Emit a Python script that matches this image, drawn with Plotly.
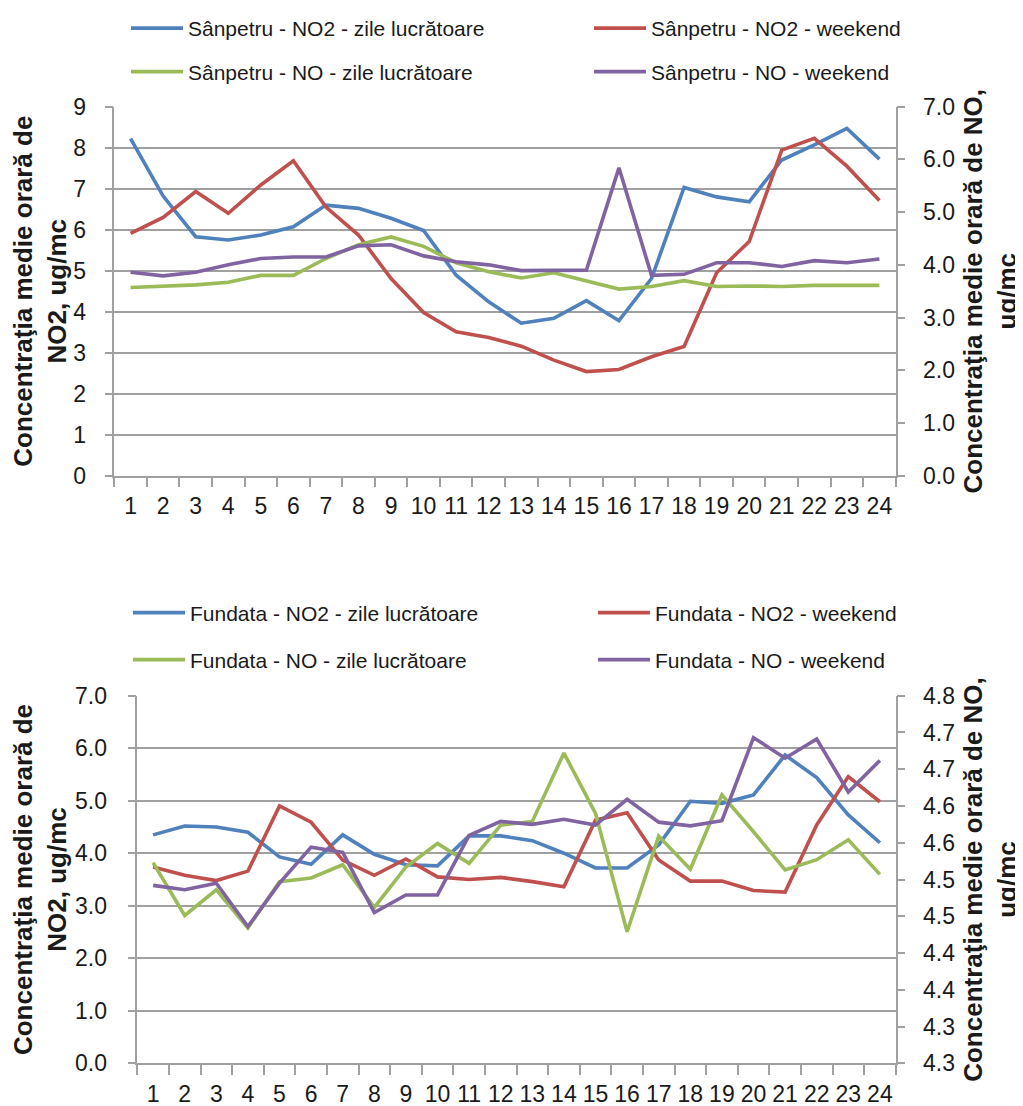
import plotly.graph_objects as go

hours = [str(h) for h in range(1, 25)]

# Sânpetru (top chart)
san_no2_work = [8.22, 6.82, 5.83, 5.75, 5.87, 6.07, 6.60, 6.52, 6.28, 5.98, 4.89, 4.24,
                3.72, 3.84, 4.27, 3.78, 4.81, 7.03, 6.80, 6.68, 7.70, 8.07, 8.47, 7.72]
san_no2_wknd = [5.91, 6.30, 6.93, 6.40, 7.09, 7.68, 6.55, 5.87, 4.81, 3.98, 3.51, 3.37,
                3.16, 2.82, 2.54, 2.59, 2.90, 3.15, 4.95, 5.71, 7.94, 8.23, 7.55, 6.71]
san_no_work = [3.57, 3.59, 3.62, 3.67, 3.80, 3.80, 4.12, 4.38, 4.53, 4.35, 4.04, 3.87,
               3.75, 3.85, 3.70, 3.54, 3.59, 3.70, 3.59, 3.60, 3.59, 3.61, 3.61, 3.61]
san_no_wknd = [3.86, 3.79, 3.86, 4.00, 4.12, 4.15, 4.15, 4.36, 4.38, 4.17, 4.06, 4.00,
               3.89, 3.89, 3.90, 5.84, 3.80, 3.82, 4.04, 4.04, 3.97, 4.08, 4.04, 4.11]

# Fundata (bottom chart)
fun_no2_work = [4.35, 4.52, 4.50, 4.40, 3.93, 3.79, 4.35, 3.98, 3.78, 3.76, 4.33, 4.33,
                4.24, 4.00, 3.72, 3.72, 4.16, 4.99, 4.95, 5.11, 5.87, 5.44, 4.73, 4.20]
fun_no2_wknd = [3.74, 3.58, 3.48, 3.66, 4.90, 4.59, 3.87, 3.58, 3.89, 3.55, 3.50, 3.54,
                3.46, 3.36, 4.63, 4.77, 3.87, 3.47, 3.47, 3.29, 3.26, 4.54, 5.46, 4.98]
fun_no_work = [4.523, 4.451, 4.486, 4.434, 4.497, 4.502, 4.520, 4.462, 4.517, 4.549, 4.522, 4.574,
               4.579, 4.672, 4.590, 4.429, 4.559, 4.514, 4.615, 4.565, 4.513, 4.527, 4.554, 4.507]
fun_no_wknd = [4.492, 4.486, 4.495, 4.436, 4.495, 4.544, 4.537, 4.455, 4.479, 4.479, 4.560, 4.579,
               4.575, 4.582, 4.574, 4.609, 4.578, 4.573, 4.580, 4.693, 4.665, 4.691, 4.619, 4.662]

fun_no_tickvals = [4.25, 4.30, 4.35, 4.40, 4.45, 4.50, 4.55, 4.60, 4.65, 4.70, 4.75]
fun_no_ticktext = ["4.3", "4.3", "4.4", "4.4", "4.5", "4.5", "4.6", "4.6", "4.7", "4.7", "4.8"]

names_top = ["Sânpetru - NO2 - zile lucrătoare", "Sânpetru - NO2 - weekend",
             "Sânpetru - NO - zile lucrătoare", "Sânpetru - NO - weekend"]
names_bot = ["Fundata - NO2 - zile lucrătoare", "Fundata - NO2 - weekend",
             "Fundata - NO - zile lucrătoare", "Fundata - NO - weekend"]

BLUE, RED, GREEN, PURPLE = "#4F81BD", "#C0504D", "#9BBB59", "#8064A2"
GRID = "#A0A0A0"
TXT = "#1a1a1a"
FONT = "Liberation Sans, Arial, sans-serif"
LW = 3.6

W, H = 1023, 1106
OFF = 8  # page body margin


def fx(px):
    return (px - OFF) / W


def fy(py):
    return 1 - (py - OFF) / H


fig = go.Figure()


def add(y, name, color, xa, ya, leg):
    fig.add_trace(go.Scatter(x=hours, y=y, name=name, mode="lines",
                             line=dict(color=color, width=LW),
                             xaxis=xa, yaxis=ya, legend=leg, showlegend=True))


add(san_no2_work, names_top[0], BLUE, "x", "y", "legend")
add(san_no2_wknd, names_top[1], RED, "x", "y", "legend2")
add(san_no_work, names_top[2], GREEN, "x", "y2", "legend3")
add(san_no_wknd, names_top[3], PURPLE, "x", "y2", "legend4")
add(fun_no2_work, names_bot[0], BLUE, "x2", "y3", "legend5")
add(fun_no2_wknd, names_bot[1], RED, "x2", "y3", "legend6")
add(fun_no_work, names_bot[2], GREEN, "x2", "y4", "legend7")
add(fun_no_wknd, names_bot[3], PURPLE, "x2", "y4", "legend8")

top_x = [fx(114.3), fx(895.7)]
top_y = [fy(475.7), fy(106.7)]
bot_x = [fx(137.3), fx(895.7)]
bot_y = [fy(1063.3), fy(695.7)]

tickfont = dict(family=FONT, size=23, color=TXT)
titlefont = dict(family=FONT, size=26, color=TXT, weight="bold")

xcommon = dict(type="category", range=[-0.5, len(hours) - 0.5],
               tickson="boundaries", ticks="outside", ticklen=10,
               tickcolor=GRID, tickwidth=1.5, showline=True, linecolor=GRID, linewidth=1.5,
               showgrid=False, tickangle=0, tickfont=tickfont, ticklabelstandoff=9,
               fixedrange=True, automargin=False)
ycommon = dict(ticks="outside", ticklen=8, tickcolor=GRID, tickwidth=1.5, showline=True,
               linecolor=GRID, linewidth=1.5, tickfont=tickfont, zeroline=False,
               automargin=False, fixedrange=True)

left_title = "Concentraţia medie orară de<br>NO2, ug/mc"
right_title = "Concentraţia medie orară de NO,<br>ug/mc"

fig.update_layout(
    template="none",
    width=W, height=H,
    margin=dict(l=0, r=0, t=0, b=0),
    showlegend=True,
    paper_bgcolor="white", plot_bgcolor="white",
    font=dict(family=FONT, color=TXT),
    xaxis=dict(domain=top_x, anchor="y", **xcommon),
    yaxis=dict(domain=top_y, anchor="x", range=[0, 9], dtick=1, tick0=0,
               showgrid=True, gridcolor=GRID, gridwidth=1.5, ticklabelstandoff=14,
               title=dict(text=left_title, font=titlefont, standoff=10), **ycommon),
    yaxis2=dict(overlaying="y", side="right", anchor="x", range=[0, 7], dtick=1, tick0=0,
                tickformat=".1f", showgrid=False, ticklabelstandoff=13,
                title=dict(text=right_title, font=titlefont, standoff=10), **ycommon),
    xaxis2=dict(domain=bot_x, anchor="y3", **xcommon),
    yaxis3=dict(domain=bot_y, anchor="x2", range=[0, 7], dtick=1, tick0=0, tickformat=".1f",
                showgrid=True, gridcolor=GRID, gridwidth=1.5, ticklabelstandoff=16,
                title=dict(text=left_title, font=titlefont, standoff=10), **ycommon),
    yaxis4=dict(overlaying="y3", side="right", anchor="x2", range=[4.25, 4.75],
                tickmode="array", tickvals=fun_no_tickvals, ticktext=fun_no_ticktext,
                showgrid=False, ticklabelstandoff=13,
                title=dict(text=right_title, font=titlefont, standoff=10), **ycommon),
)

IW = 52
legcommon = dict(orientation="h", xanchor="left", itemwidth=IW,
                 font=dict(family=FONT, size=21, color=TXT), bgcolor="rgba(0,0,0,0)",
                 borderwidth=0, itemclick=False, itemdoubleclick=False, visible=True)
TXT_GAP = IW + 10
# (text start x, row centre y) of each legend entry, in page pixels; None = top row
leg_pos = [(188, None), (651, None), (188, 72), (651, 72),
           (190, 613), (655, 613), (190, 660), (655, 660)]
legs = {}
for i, (tx, ty) in enumerate(leg_pos):
    key = "legend" if i == 0 else f"legend{i + 1}"
    if ty is None:
        legs[key] = dict(x=fx(tx - TXT_GAP), y=1, yanchor="top", **legcommon)
    else:
        legs[key] = dict(x=fx(tx - TXT_GAP), y=fy(ty), yanchor="middle", **legcommon)
fig.update_layout(**legs)

fig.write_html("out.html")
